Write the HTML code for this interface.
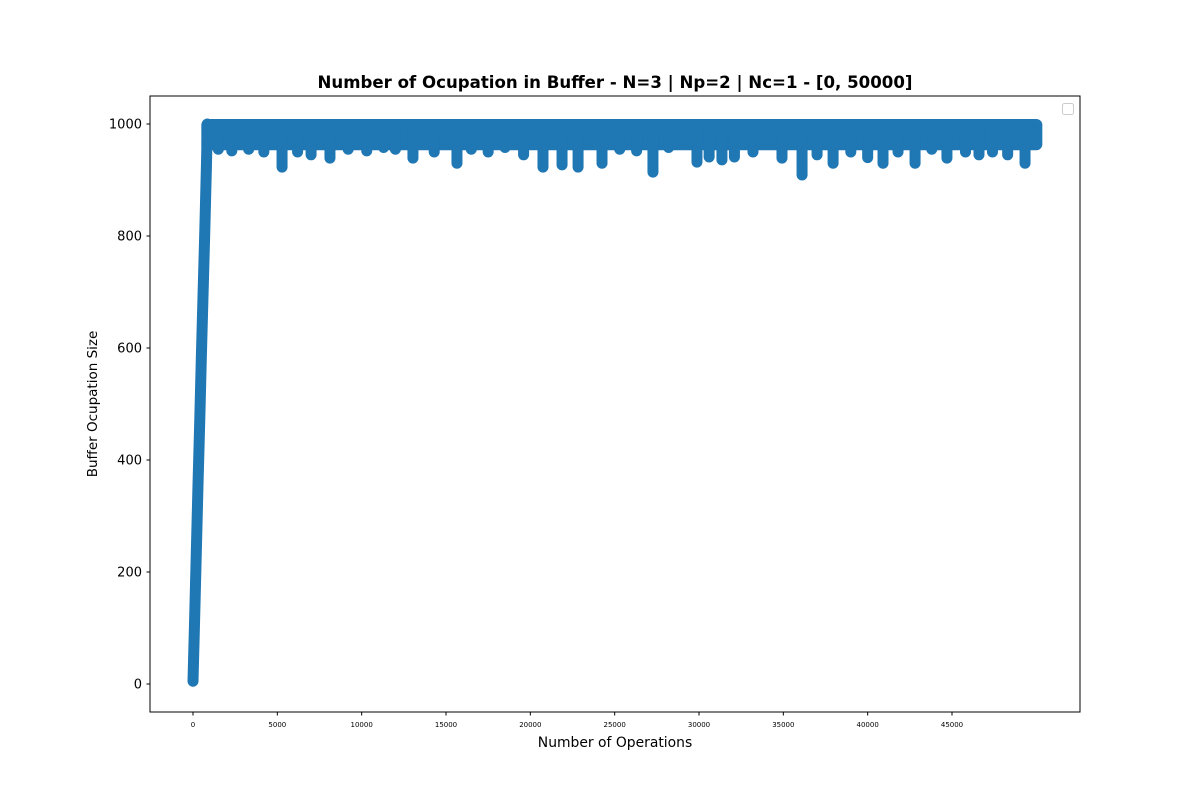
<!DOCTYPE html>
<html><head><meta charset="utf-8"><style>
body{margin:0;background:#fff;font-family:"Liberation Sans","DejaVu Sans",sans-serif;}
</style></head><body>
<svg width="1200" height="800" viewBox="0 0 1200 800" id="svg" font-family="'DejaVu Sans','Liberation Sans',sans-serif">
<rect width="1200" height="800" fill="#fff"/>
<text x="615" y="88" text-anchor="middle" font-size="16.6" font-weight="bold">Number of Ocupation in Buffer - N=3 | Np=2 | Nc=1 - [0, 50000]</text>
<g id="plot"></g>
<rect x="150" y="96" width="930" height="616" fill="none" stroke="#000" stroke-width="1"/>
<rect x="1062.5" y="103.5" width="11" height="11" rx="2" fill="#fff" stroke="#ccc"/>
<text x="615" y="747" text-anchor="middle" font-size="13.9">Number of Operations</text>
<text transform="translate(97,404) rotate(-90)" text-anchor="middle" font-size="13.5">Buffer Ocupation Size</text>
</svg>
<script>
const xTicks=[0,5000,10000,15000,20000,25000,30000,35000,40000,45000];
const yTicks=[0,200,400,600,800,1000];
const rampOps=[0,100,200,300,400,500,600,700,800,850];
const rampVals=[5,120,240,360,470,590,700,810,930,1000];
const dipOps=[1500,2300,3300,4200,5280,6200,7000,8120,9200,10300,11300,12000,13040,14300,15650,16500,17500,18500,19600,20750,21880,22830,24250,25300,26300,27270,28200,29880,30600,31360,32100,33200,34920,36110,37000,37950,39000,40000,40910,41800,42810,43800,44700,45800,46600,47400,48300,49330,49900];
const dipVals=[955,952,955,950,923,950,945,939,955,952,958,955,939,950,930,955,950,958,945,923,927,923,930,955,952,914,958,932,941,936,941,950,939,909,945,930,950,940,930,950,930,955,939,950,945,950,945,930,975];
const bandLow=962, xMax=50000;
const sx=v=>193+v*(759/45000), sy=v=>684-v*0.56;
const NS='http://www.w3.org/2000/svg', g=document.getElementById('plot'), svg=document.getElementById('svg');
function mk(t,a){const e=document.createElementNS(NS,t);for(const k in a)e.setAttribute(k,a[k]);return e;}
const C='#1f77b4';
let pts=rampOps.map((o,i)=>sx(o)+','+sy(rampVals[i])).join(' ');
let ramp=mk('polyline',{points:pts,fill:'none',stroke:C,'stroke-width':11,'stroke-linecap':'round','stroke-linejoin':'round'});


g.appendChild(ramp);
let band=mk('rect',{x:sx(850)-6,y:sy(1000)-5,width:sx(xMax)-sx(850)+12,height:(1000-bandLow)*0.56+10,rx:6,fill:C});


g.appendChild(band);
dipOps.forEach((o,i)=>{
 const l=mk('line',{x1:sx(o),y1:sy(985),x2:sx(o),y2:sy(dipVals[i]),stroke:C,'stroke-width':11,'stroke-linecap':'round'});
 
 
 g.appendChild(l);
});
xTicks.forEach(t=>{
 const x=sx(t);
 const tk=mk('line',{x1:x,y1:712,x2:x,y2:715.5,stroke:'#000'});
 
 
 svg.appendChild(tk);
 const tx=mk('text',{x:x,y:727,'text-anchor':'middle','font-size':7});
 tx.textContent=t;
 
 
 svg.appendChild(tx);
});
yTicks.forEach(t=>{
 const y=sy(t);
 const tk=mk('line',{x1:146.5,y1:y,x2:150,y2:y,stroke:'#000'});
 
 
 svg.appendChild(tk);
 const tx=mk('text',{x:142,y:y+4.5,'text-anchor':'end','font-size':13});
 tx.textContent=t;
 
 
 svg.appendChild(tx);
});
</script>
</body></html>
